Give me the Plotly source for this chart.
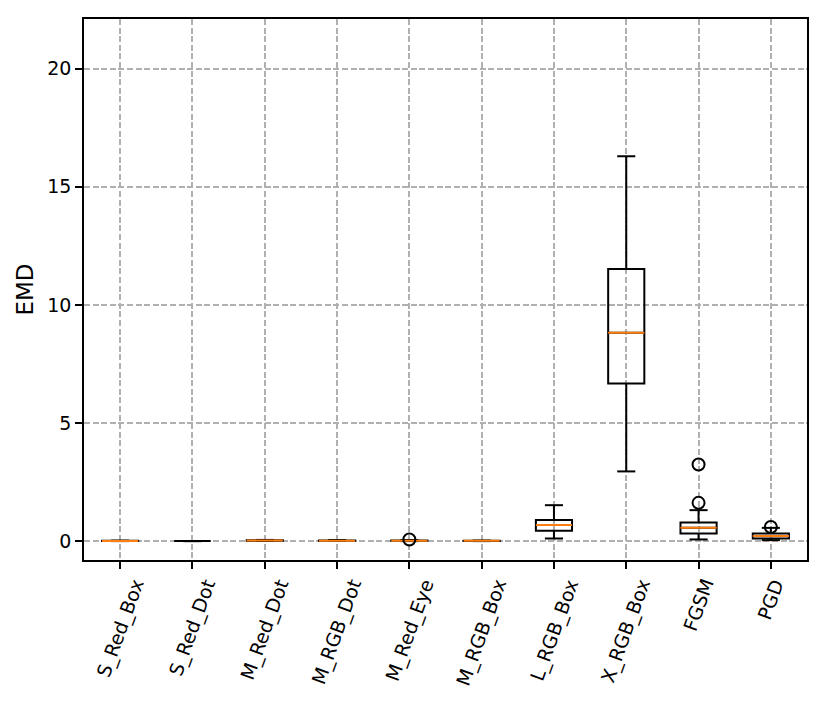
import plotly.graph_objects as go

categories = ["S_Red_Box", "S_Red_Dot", "M_Red_Dot", "M_RGB_Dot", "M_Red_Eye",
              "M_RGB_Box", "L_RGB_Box", "X_RGB_Box", "FGSM", "PGD"]
lower_whisker = [0.0, 0.0, 0.01, 0.01, 0.0, 0.0, 0.11, 2.95, 0.07, 0.04]
q1 = [0.0, 0.0, 0.015, 0.01, 0.01, 0.005, 0.44, 6.67, 0.32, 0.11]
median = [0.005, 0.0, 0.025, 0.02, 0.02, 0.01, 0.68, 8.82, 0.56, 0.22]
q3 = [0.01, 0.0, 0.035, 0.03, 0.03, 0.015, 0.89, 11.52, 0.79, 0.32]
upper_whisker = [0.02, 0.0, 0.05, 0.045, 0.045, 0.025, 1.52, 16.29, 1.31, 0.56]
outliers = [[], [], [], [], [0.07], [], [], [], [1.62, 3.24], [0.60]]
y_ticks = [0, 5, 10, 15, 20]
y_label = "EMD"

# style
MEDIAN_COLORS = ["#ff7f0e", "black"] + ["#ff7f0e"] * 8
BOX_W = 0.5
CAP_W = 0.25
FONT = "DejaVu Sans"
FONT_SIZE = 19
LW = 2

fig = go.Figure()
positions = list(range(1, len(categories) + 1))

for i, name in enumerate(categories):
    p = positions[i]
    fig.add_trace(go.Box(
        x=[p], q1=[q1[i]], median=[median[i]], q3=[q3[i]],
        lowerfence=[lower_whisker[i]], upperfence=[upper_whisker[i]],
        width=BOX_W, boxpoints=False, whiskerwidth=0,
        line=dict(color="black", width=LW), fillcolor="rgba(0,0,0,0)",
        showlegend=False, name=name))
    # caps
    fig.add_trace(go.Scatter(
        x=[p - CAP_W / 2, p + CAP_W / 2, None, p - CAP_W / 2, p + CAP_W / 2],
        y=[lower_whisker[i], lower_whisker[i], None, upper_whisker[i], upper_whisker[i]],
        mode="lines", line=dict(color="black", width=LW), showlegend=False,
        hoverinfo="skip"))
    # median
    fig.add_trace(go.Scatter(
        x=[p - BOX_W / 2, p + BOX_W / 2], y=[median[i], median[i]],
        mode="lines", line=dict(color=MEDIAN_COLORS[i], width=LW),
        showlegend=False, hoverinfo="skip"))
    if outliers[i]:
        fig.add_trace(go.Scatter(
            x=[p] * len(outliers[i]), y=outliers[i], mode="markers",
            marker=dict(symbol="circle-open", size=12, color="black",
                        line=dict(width=LW, color="black")),
            showlegend=False))
    # rotated tick label centred under its tick (matplotlib style)
    fig.add_annotation(x=p, xref="x", y=0, yref="paper", text=name,
                       textangle=-70, showarrow=False, xanchor="center",
                       yanchor="top", yshift=-15, borderpad=0,
                       font=dict(family=FONT, size=FONT_SIZE, color="black"))

grid_style = dict(showgrid=True, gridcolor="#b0b0b0", griddash="6px,2.6px",
                  gridwidth=1.6, showline=True, linecolor="black", linewidth=1.6,
                  mirror=True, ticks="outside", ticklen=7, tickwidth=1.6,
                  tickcolor="black", zeroline=False)

fig.update_layout(
    width=822, height=701,
    margin=dict(l=76, r=23, t=9, b=149),
    plot_bgcolor="white", paper_bgcolor="white",
    font=dict(family=FONT, size=FONT_SIZE, color="black"),
    xaxis=dict(range=[0.5, len(categories) + 0.5], tickmode="array",
               tickvals=positions, showticklabels=False, **grid_style),
    yaxis=dict(range=[-0.8, 22.1], tickmode="array", tickvals=y_ticks,
               title=dict(text=y_label, standoff=7), **grid_style),
)

fig.write_html("out.html")
